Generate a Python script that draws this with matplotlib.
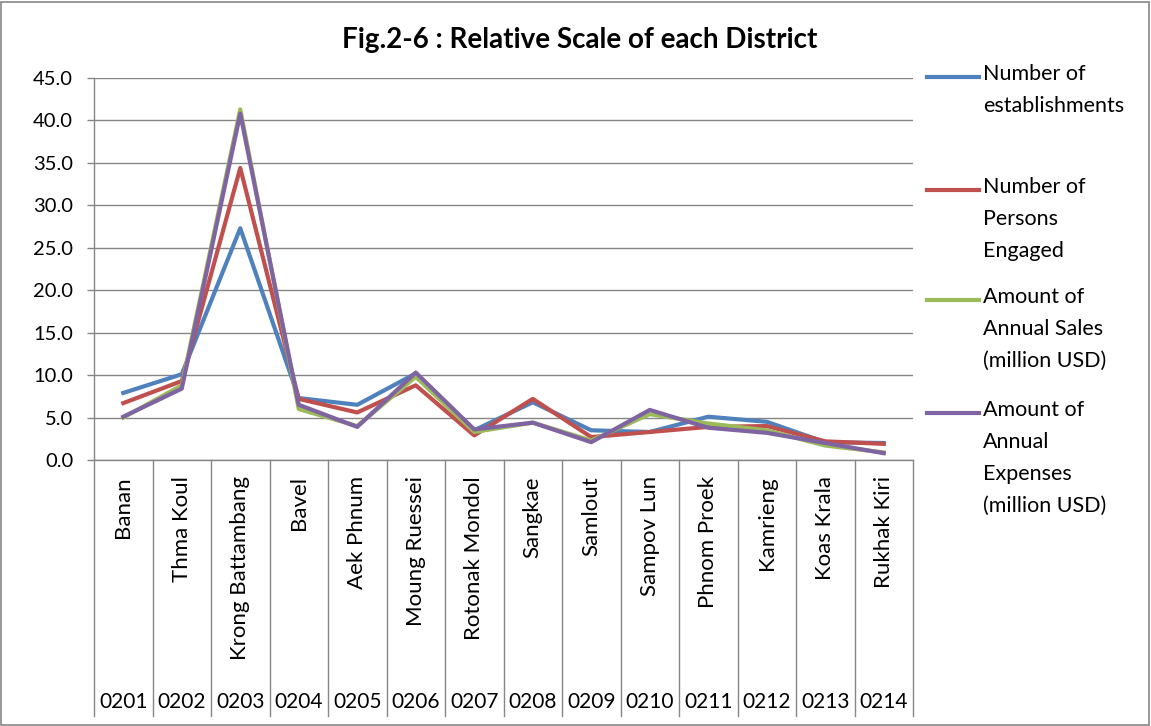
import numpy as np
import matplotlib.pyplot as plt
from matplotlib.lines import Line2D
from matplotlib.patches import Rectangle
import matplotlib.transforms as mtransforms

plt.rcParams['font.family'] = ['Lato', 'DejaVu Sans']

# data
districts = ['Banan', 'Thma Koul', 'Krong Battambang', 'Bavel', 'Aek Phnum',
             'Moung Ruessei', 'Rotonak Mondol', 'Sangkae', 'Samlout',
             'Sampov Lun', 'Phnom Proek', 'Kamrieng', 'Koas Krala', 'Rukhak Kiri']
codes = ['0201', '0202', '0203', '0204', '0205', '0206', '0207',
         '0208', '0209', '0210', '0211', '0212', '0213', '0214']

establishments = [7.9, 10.1, 27.3, 7.3, 6.5, 10.2, 3.5, 6.8, 3.5, 3.3, 5.1, 4.5, 2.1, 2.0]
persons = [6.7, 9.3, 34.4, 7.2, 5.6, 8.8, 2.9, 7.2, 2.7, 3.3, 3.9, 4.0, 2.2, 1.9]
sales = [5.0, 8.8, 41.3, 6.0, 4.0, 9.8, 3.3, 4.4, 2.3, 5.4, 4.3, 3.5, 1.7, 0.9]
expenses = [5.1, 8.4, 40.8, 6.5, 3.9, 10.3, 3.6, 4.4, 2.1, 5.9, 3.8, 3.2, 2.0, 0.8]

labels = ['Number of\nestablishments',
          'Number of\nPersons\nEngaged',
          'Amount of\nAnnual Sales\n(million USD)',
          'Amount of\nAnnual\nExpenses\n(million USD)']
colors = ['#4F81BD', '#C0504D', '#9BBB59', '#8064A2']
series = [establishments, persons, sales, expenses]

W, H = 1151, 726
fig = plt.figure(figsize=(W / 100, H / 100), dpi=100)
ax = fig.add_axes([94 / W, 1 - 460 / H, (913 - 94) / W, (460 - 78) / H])

x = np.arange(len(districts))
for vals, c in zip(series, colors):
    ax.plot(x, vals, color=c, lw=3.0, solid_joinstyle='round')

ax.set_xlim(-0.5, len(districts) - 0.5)
ax.set_ylim(0, 45)
ax.set_yticks(np.arange(0, 46, 5))
ax.set_yticklabels(['%.1f' % v for v in np.arange(0, 46, 5)], fontsize=14.5)
ax.tick_params(axis='y', length=5, width=1, color='#868686', pad=10)
ax.set_xticks([])
ax.yaxis.grid(True, color='#868686', lw=1)
ax.set_axisbelow(True)
for s in ['top', 'right']:
    ax.spines[s].set_visible(False)
for s in ['left', 'bottom']:
    ax.spines[s].set_color('#868686')
    ax.spines[s].set_linewidth(1)

# category table below the axis
trans = mtransforms.blended_transform_factory(ax.transData, ax.transAxes)
ybot = -(716 - 460) / (460 - 78)
for b in np.arange(-0.5, len(districts), 1.0):
    ax.add_line(Line2D([b, b], [0, ybot], transform=trans, color='#868686',
                       lw=1, clip_on=False))
name_y = -(476 - 460) / (460 - 78)
code_y = -(702 - 460) / (460 - 78)
for i in x:
    ax.text(i, name_y, districts[i], transform=trans, rotation=90,
            ha='center', va='top', fontsize=16)
    ax.text(i, code_y, codes[i], transform=trans, ha='center', va='center',
            fontsize=15)

# title
fig.text(580 / W, 1 - 40 / H, 'Fig.2-6 : Relative Scale of each District',
         ha='center', va='center', fontsize=20, fontweight='bold')

# legend
leg_y = [77, 190, 300, 413]
for lab, c, yy in zip(labels, colors, leg_y):
    fy = 1 - yy / H
    fig.add_artist(Line2D([927 / W, 979 / W], [fy, fy], color=c, lw=3.0))
    fig.text(983 / W, 1 - (yy - 13) / H, lab, ha='left', va='top',
             fontsize=15.5, linespacing=1.75)

# outer border
fig.add_artist(Rectangle((1 / W, 1 / H), 1 - 3 / W, 1 - 3 / H,
                         transform=fig.transFigure, fill=False,
                         edgecolor='#868686', lw=1.2))

plt.savefig('out.png', dpi=100)
